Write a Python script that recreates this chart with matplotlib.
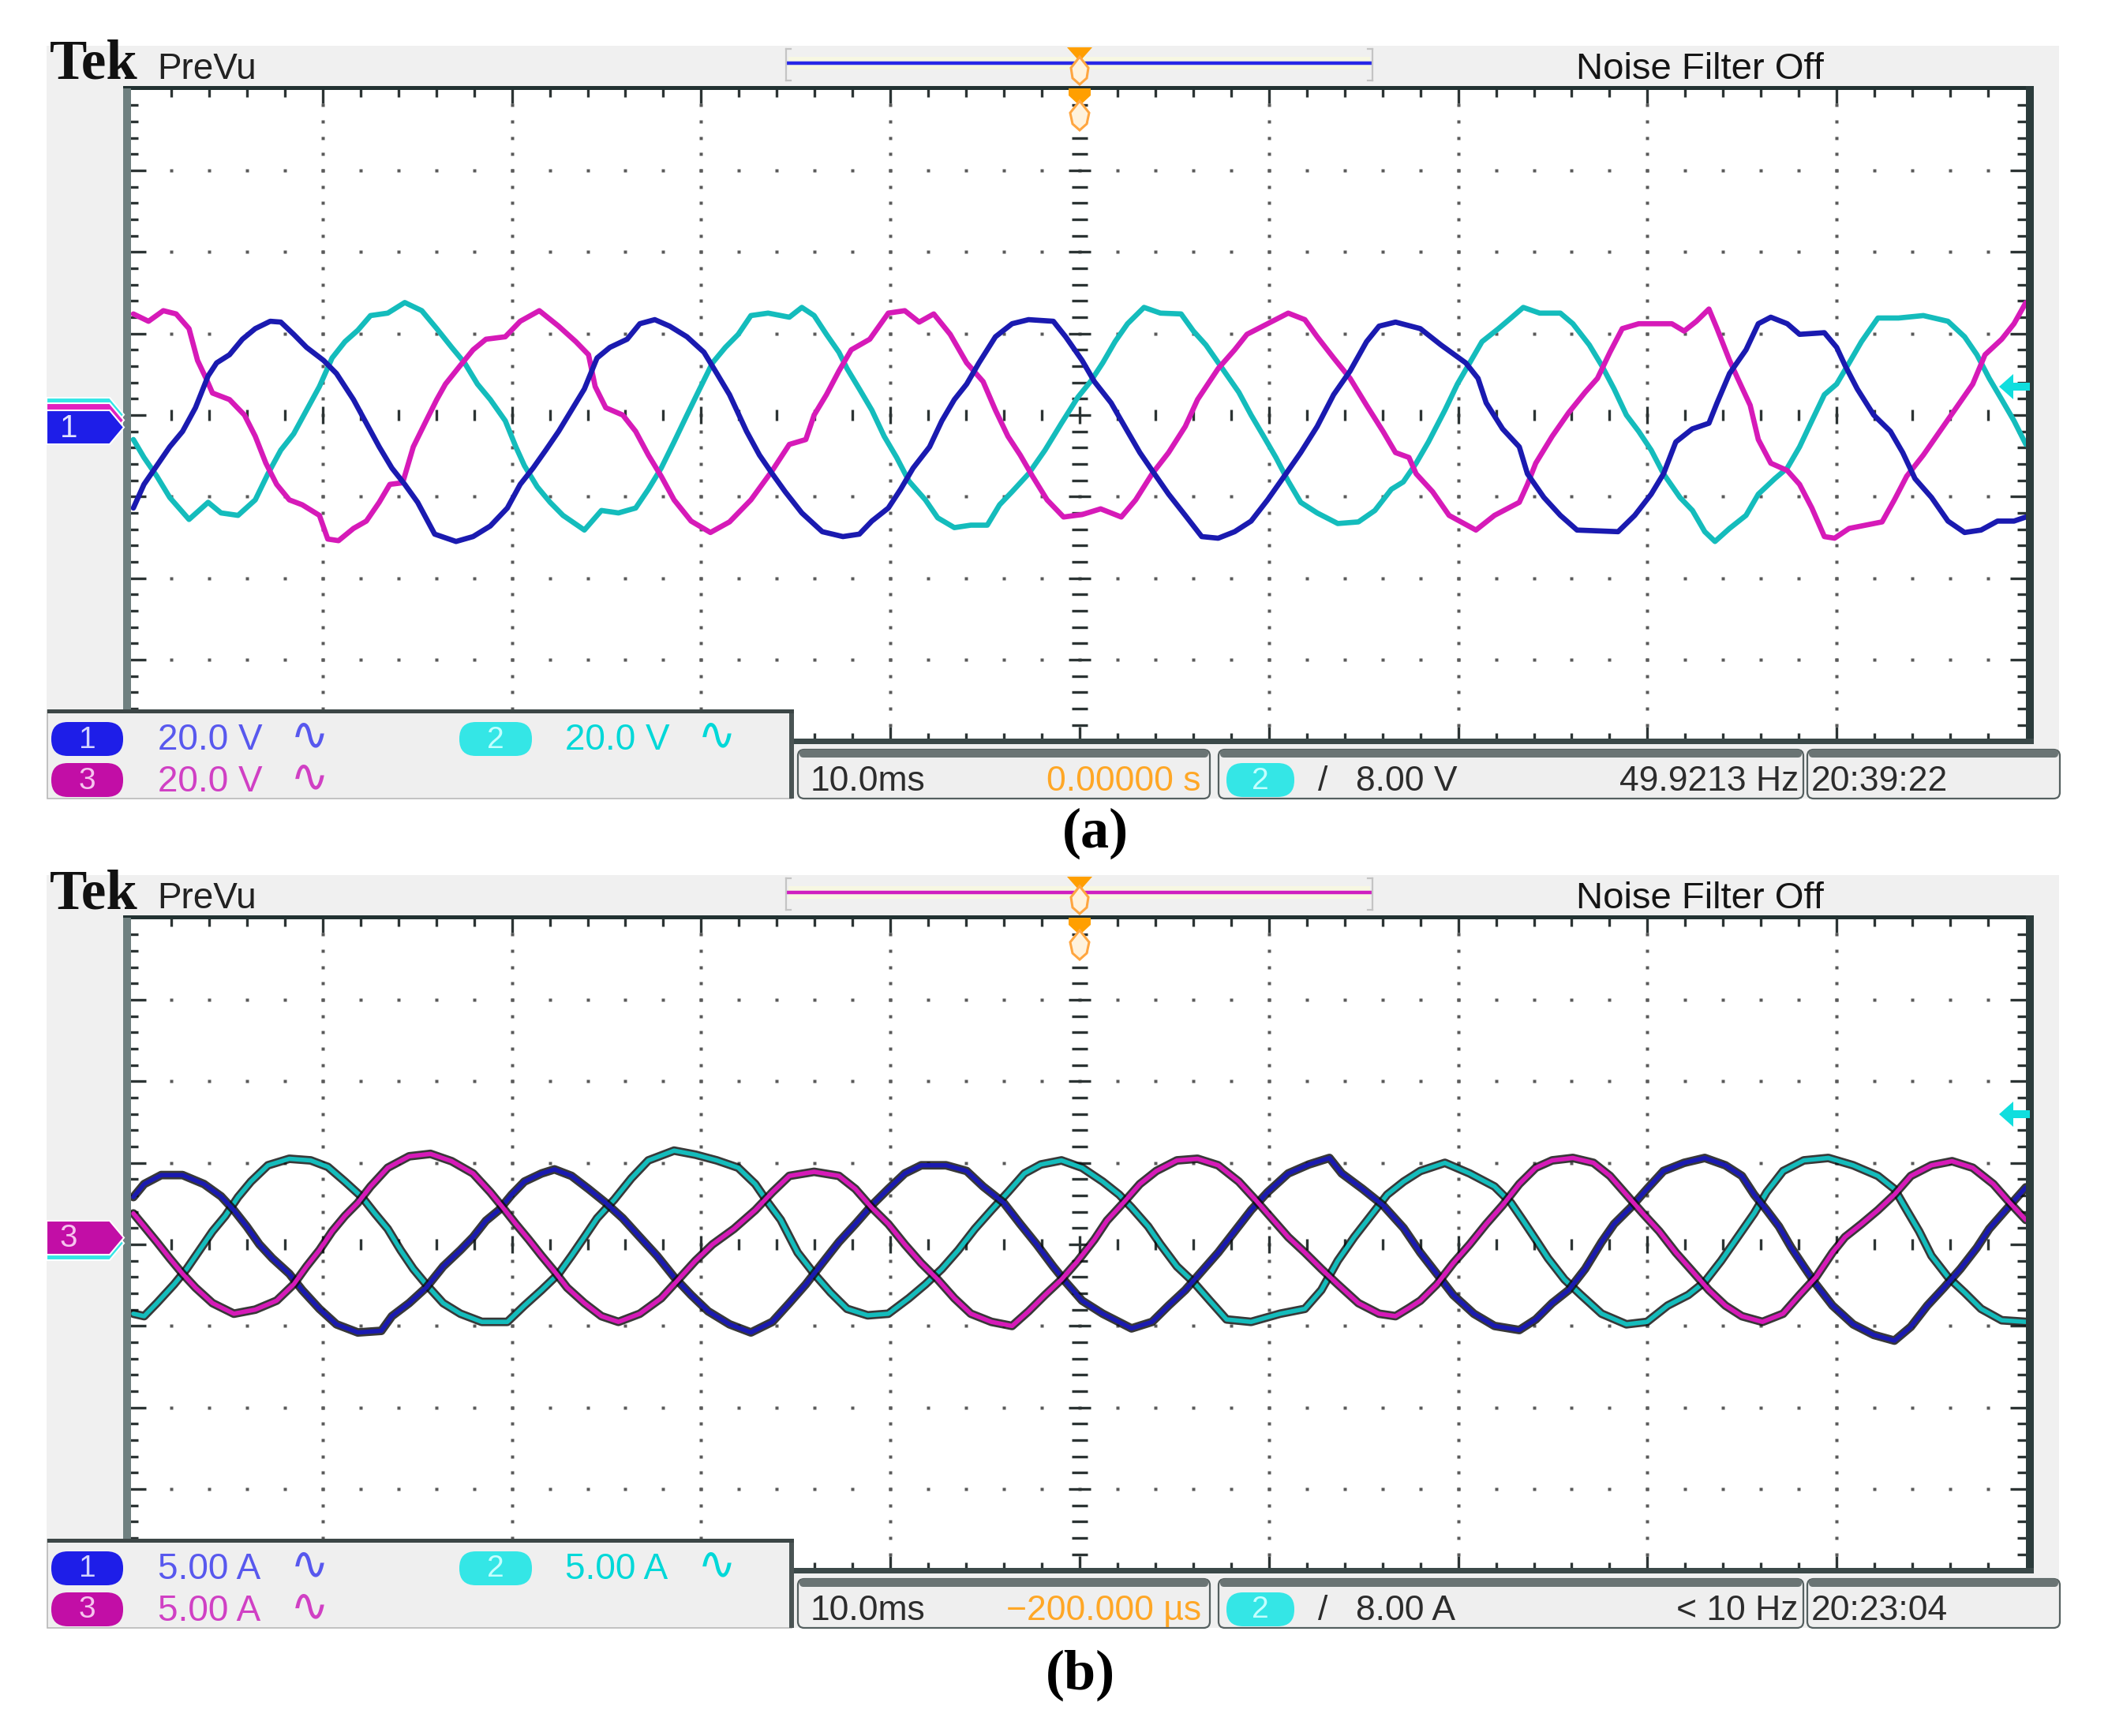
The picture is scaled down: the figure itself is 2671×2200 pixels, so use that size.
import matplotlib
matplotlib.use("Agg")
import matplotlib.pyplot as plt
import numpy as np
from matplotlib.patches import Rectangle, Polygon, FancyBboxPatch

# ---------------- DATA (time in divisions of 10 ms, amplitude in divisions) ----------------
# Panel (a): voltages, 20 V/div
A_CH1 = [(0.000,-1.14),(0.056,-0.85),(0.124,-0.62),(0.192,-0.39),(0.260,-0.20),(0.328,0.09),(0.395,0.48),
         (0.440,0.64),(0.508,0.74),(0.576,0.93),(0.644,1.06),(0.723,1.15),(0.779,1.14),(0.847,0.99),(0.915,0.83),
         (1.005,0.67),(1.073,0.51),(1.163,0.19),(1.231,-0.10),(1.299,-0.39),(1.366,-0.65),(1.434,-0.85),(1.502,-1.07),
         (1.592,-1.46),(1.705,-1.55),(1.795,-1.49),(1.886,-1.36),(1.976,-1.14),(2.044,-0.85),(2.112,-0.65),(2.179,-0.43),
         (2.247,-0.20),(2.315,0.06),(2.383,0.32),(2.450,0.70),(2.518,0.83),(2.609,0.93),(2.676,1.12),(2.755,1.17),
         (2.834,1.09),(2.925,0.96),(3.015,0.77),(3.083,0.51),(3.150,0.25),(3.240,-0.20),(3.308,-0.49),(3.376,-0.72),
         (3.444,-0.94),(3.532,-1.20),(3.640,-1.43),(3.749,-1.49),(3.836,-1.46),(3.902,-1.30),(3.989,-1.14),(4.054,-0.91),
         (4.120,-0.65),(4.207,-0.39),(4.272,-0.07),(4.338,0.19),(4.403,0.38),(4.468,0.64),(4.555,0.96),(4.643,1.12),
         (4.730,1.17),(4.861,1.15),(4.926,0.96),(5.013,0.67),(5.078,0.41),(5.166,0.15),(5.253,-0.20),(5.318,-0.46),
         (5.383,-0.68),(5.470,-0.97),(5.558,-1.23),(5.645,-1.49),(5.732,-1.51),(5.819,-1.43),(5.906,-1.30),(5.993,-1.04),
         (6.081,-0.75),(6.168,-0.46),(6.255,-0.14),(6.342,0.25),(6.429,0.54),(6.516,0.90),(6.582,1.09),(6.669,1.14),
         (6.800,1.06),(6.909,0.86),(7.040,0.64),(7.105,0.45),(7.148,0.15),(7.235,-0.17),(7.323,-0.39),(7.366,-0.72),
         (7.453,-1.01),(7.540,-1.23),(7.628,-1.41),(7.845,-1.43),(7.933,-1.23),(8.020,-0.97),(8.085,-0.72),(8.150,-0.33),
         (8.237,-0.17),(8.325,-0.10),(8.368,0.15),(8.434,0.51),(8.521,0.80),(8.586,1.12),(8.652,1.20),(8.739,1.12),
         (8.804,0.99),(8.935,1.01),(9.000,0.83),(9.044,0.61),(9.109,0.32),(9.196,0.00),(9.284,-0.20),(9.349,-0.46),
         (9.414,-0.78),(9.501,-1.01),(9.588,-1.30),(9.676,-1.44),(9.763,-1.41),(9.850,-1.30),(9.937,-1.30),(10.000,-1.25)]

A_CH2 = [(0.000,-0.30),(0.056,-0.52),(0.124,-0.75),(0.192,-1.01),(0.294,-1.28),(0.395,-1.07),(0.463,-1.20),
         (0.553,-1.23),(0.644,-1.04),(0.711,-0.72),(0.779,-0.43),(0.847,-0.23),(0.915,0.06),(0.983,0.35),(1.050,0.70),
         (1.118,0.90),(1.186,1.04),(1.253,1.22),(1.344,1.25),(1.434,1.38),(1.524,1.28),(1.603,1.06),(1.682,0.83),
         (1.750,0.64),(1.818,0.38),(1.886,0.19),(1.965,-0.07),(2.021,-0.39),(2.066,-0.62),(2.134,-0.88),(2.202,-1.07),
         (2.270,-1.23),(2.383,-1.41),(2.473,-1.17),(2.563,-1.20),(2.654,-1.14),(2.721,-0.91),(2.789,-0.65),(2.857,-0.33),
         (2.925,0.00),(2.992,0.32),(3.060,0.64),(3.128,0.83),(3.196,0.99),(3.263,1.22),(3.354,1.25),(3.466,1.20),
         (3.532,1.32),(3.597,1.22),(3.662,0.99),(3.728,0.77),(3.771,0.57),(3.836,0.32),(3.902,0.06),(3.967,-0.26),
         (4.033,-0.52),(4.098,-0.81),(4.185,-1.04),(4.250,-1.26),(4.338,-1.38),(4.425,-1.35),(4.512,-1.35),(4.577,-1.10),
         (4.643,-0.94),(4.730,-0.72),(4.817,-0.43),(4.904,-0.10),(4.991,0.22),(5.057,0.41),(5.122,0.64),(5.187,0.90),
         (5.253,1.12),(5.340,1.32),(5.427,1.25),(5.536,1.24),(5.601,1.03),(5.667,0.86),(5.754,0.57),(5.841,0.28),
         (5.906,0.00),(5.972,-0.26),(6.037,-0.52),(6.102,-0.81),(6.168,-1.07),(6.255,-1.20),(6.364,-1.33),(6.473,-1.31),
         (6.560,-1.17),(6.647,-0.91),(6.710,-0.82),(6.778,-0.59),(6.843,-0.33),(6.930,0.06),(6.996,0.38),(7.061,0.64),
         (7.126,0.90),(7.213,1.06),(7.279,1.19),(7.344,1.32),(7.431,1.25),(7.540,1.25),(7.606,1.12),(7.693,0.86),
         (7.758,0.61),(7.824,0.32),(7.889,0.00),(7.954,-0.20),(8.020,-0.43),(8.085,-0.72),(8.172,-1.01),(8.238,-1.17),
         (8.303,-1.43),(8.357,-1.55),(8.434,-1.39),(8.521,-1.23),(8.586,-0.97),(8.673,-0.78),(8.739,-0.65),(8.804,-0.39),
         (8.869,-0.07),(8.935,0.25),(9.000,0.38),(9.066,0.64),(9.131,0.90),(9.218,1.19),(9.327,1.19),(9.458,1.22),
         (9.588,1.15),(9.676,0.96),(9.741,0.74),(9.806,0.45),(9.872,0.19),(9.937,-0.07),(10.000,-0.36)]

A_CH3 = [(0.000,1.24),(0.080,1.15),(0.158,1.28),(0.226,1.24),(0.294,1.06),(0.339,0.67),(0.384,0.45),(0.418,0.27),
         (0.508,0.19),(0.587,0.00),(0.644,-0.26),(0.700,-0.59),(0.757,-0.85),(0.824,-1.04),(0.892,-1.10),(0.983,-1.23),
         (1.027,-1.52),(1.084,-1.54),(1.163,-1.39),(1.231,-1.30),(1.299,-1.07),(1.355,-0.85),(1.423,-0.83),(1.479,-0.39),
         (1.547,-0.07),(1.603,0.19),(1.649,0.38),(1.728,0.61),(1.795,0.80),(1.863,0.93),(1.965,0.96),(2.044,1.15),
         (2.145,1.28),(2.247,1.09),(2.338,0.90),(2.405,0.74),(2.440,0.35),(2.496,0.09),(2.586,0.00),(2.654,-0.20),
         (2.721,-0.49),(2.789,-0.75),(2.857,-1.04),(2.947,-1.30),(3.049,-1.44),(3.150,-1.31),(3.263,-1.04),(3.376,-0.68),
         (3.466,-0.36),(3.553,-0.30),(3.597,0.00),(3.662,0.25),(3.728,0.54),(3.793,0.80),(3.891,0.93),(3.989,1.25),
         (4.076,1.28),(4.152,1.14),(4.229,1.24),(4.316,0.99),(4.403,0.64),(4.490,0.41),(4.555,0.06),(4.621,-0.26),
         (4.686,-0.49),(4.751,-0.75),(4.828,-1.04),(4.915,-1.25),(5.013,-1.22),(5.111,-1.15),(5.220,-1.25),(5.296,-1.04),
         (5.383,-0.72),(5.470,-0.46),(5.558,-0.14),(5.623,0.19),(5.732,0.57),(5.819,0.80),(5.884,0.99),(5.993,1.12),
         (6.102,1.25),(6.190,1.17),(6.255,0.96),(6.342,0.70),(6.429,0.45),(6.516,0.12),(6.603,-0.20),(6.669,-0.46),
         (6.740,-0.52),(6.778,-0.72),(6.865,-0.94),(6.952,-1.23),(7.094,-1.41),(7.192,-1.23),(7.323,-1.07),(7.366,-0.85),
         (7.410,-0.59),(7.497,-0.26),(7.584,0.03),(7.671,0.28),(7.736,0.45),(7.802,0.77),(7.867,1.06),(7.954,1.12),
         (8.129,1.12),(8.194,1.03),(8.259,1.15),(8.325,1.30),(8.368,1.06),(8.434,0.67),(8.477,0.45),(8.543,0.12),
         (8.586,-0.30),(8.652,-0.59),(8.739,-0.68),(8.804,-0.85),(8.869,-1.14),(8.935,-1.49),(8.989,-1.51),(9.066,-1.39),
         (9.153,-1.35),(9.240,-1.31),(9.305,-1.04),(9.370,-0.75),(9.458,-0.49),(9.545,-0.20),(9.632,0.09),(9.719,0.38),
         (9.784,0.74),(9.872,0.93),(9.937,1.12),(10.000,1.38)]

# Panel (b): currents, 5 A/div
B_CH1 = [(0.000,0.58),(0.057,0.74),(0.147,0.85),(0.260,0.85),(0.373,0.74),(0.463,0.59),(0.531,0.42),(0.599,0.22),
         (0.666,0.00),(0.734,-0.17),(0.824,-0.36),(0.892,-0.56),(0.983,-0.79),(1.073,-0.98),(1.186,-1.08),(1.310,-1.06),
         (1.366,-0.88),(1.457,-0.72),(1.547,-0.53),(1.637,-0.27),(1.728,-0.07),(1.795,0.09),(1.863,0.29),(1.931,0.42),
         (1.999,0.61),(2.066,0.77),(2.157,0.87),(2.225,0.92),(2.315,0.84),(2.405,0.68),(2.496,0.51),(2.586,0.32),
         (2.676,0.09),(2.767,-0.14),(2.857,-0.40),(2.947,-0.62),(3.037,-0.82),(3.150,-0.98),(3.263,-1.08),(3.376,-0.95),
         (3.466,-0.72),(3.553,-0.49),(3.640,-0.23),(3.728,0.03),(3.815,0.25),(3.902,0.48),(3.989,0.68),(4.076,0.87),
         (4.163,0.97),(4.294,0.97),(4.403,0.90),(4.490,0.71),(4.599,0.51),(4.686,0.25),(4.773,0.00),(4.860,-0.27),
         (4.926,-0.46),(5.013,-0.69),(5.122,-0.85),(5.274,-1.03),(5.383,-0.95),(5.470,-0.75),(5.558,-0.56),(5.645,-0.33),
         (5.732,-0.10),(5.819,0.16),(5.906,0.42),(5.993,0.64),(6.102,0.87),(6.211,0.98),(6.320,1.06),(6.385,0.87),
         (6.495,0.68),(6.603,0.48),(6.712,0.20),(6.800,-0.10),(6.887,-0.36),(6.974,-0.62),(7.083,-0.85),(7.192,-1.00),
         (7.323,-1.05),(7.410,-0.92),(7.497,-0.72),(7.584,-0.56),(7.671,-0.30),(7.758,0.03),(7.824,0.25),(7.911,0.45),
         (7.998,0.68),(8.085,0.90),(8.194,1.00),(8.303,1.06),(8.412,0.97),(8.499,0.84),(8.564,0.61),(8.630,0.42),
         (8.695,0.22),(8.760,-0.04),(8.826,-0.27),(8.891,-0.49),(8.978,-0.75),(9.087,-0.98),(9.196,-1.11),(9.305,-1.18),
         (9.392,-1.01),(9.479,-0.75),(9.567,-0.53),(9.654,-0.30),(9.741,-0.04),(9.806,0.19),(9.893,0.42),(10.000,0.70)]

B_CH2 = [(0.000,-0.85),(0.057,-0.88),(0.124,-0.72),(0.215,-0.49),(0.282,-0.30),(0.350,-0.07),(0.418,0.16),
         (0.486,0.35),(0.553,0.58),(0.621,0.77),(0.711,0.97),(0.824,1.05),(0.937,1.03),(1.028,0.95),(1.118,0.77),
         (1.208,0.58),(1.276,0.38),(1.344,0.19),(1.412,-0.07),(1.479,-0.30),(1.547,-0.49),(1.637,-0.72),(1.728,-0.85),
         (1.841,-0.95),(1.976,-0.95),(2.066,-0.75),(2.157,-0.56),(2.247,-0.36),(2.315,-0.14),(2.383,0.09),(2.450,0.32),
         (2.541,0.55),(2.631,0.81),(2.721,1.03),(2.857,1.15),(2.970,1.10),(3.083,1.03),(3.196,0.94),(3.286,0.74),
         (3.354,0.51),(3.421,0.30),(3.510,-0.10),(3.597,-0.36),(3.684,-0.59),(3.771,-0.79),(3.880,-0.87),(3.989,-0.85),
         (4.098,-0.66),(4.185,-0.49),(4.272,-0.30),(4.359,-0.07),(4.446,0.19),(4.534,0.42),(4.621,0.64),(4.708,0.87),
         (4.795,0.98),(4.904,1.03),(5.013,0.94),(5.122,0.77),(5.209,0.61),(5.275,0.45),(5.362,0.22),(5.427,0.00),
         (5.514,-0.27),(5.601,-0.46),(5.688,-0.69),(5.776,-0.92),(5.906,-0.95),(6.059,-0.85),(6.190,-0.79),(6.277,-0.56),
         (6.364,-0.20),(6.451,0.09),(6.538,0.35),(6.625,0.61),(6.712,0.77),(6.800,0.90),(6.930,1.00),(7.061,0.87),
         (7.192,0.71),(7.279,0.51),(7.344,0.29),(7.410,0.06),(7.475,-0.17),(7.562,-0.43),(7.649,-0.62),(7.758,-0.85),
         (7.889,-0.98),(7.998,-0.95),(8.107,-0.75),(8.216,-0.62),(8.303,-0.46),(8.390,-0.20),(8.477,0.09),(8.564,0.38),
         (8.630,0.64),(8.717,0.90),(8.826,1.03),(8.956,1.06),(9.087,0.97),(9.218,0.84),(9.305,0.68),(9.370,0.42),
         (9.436,0.16),(9.501,-0.14),(9.588,-0.40),(9.676,-0.59),(9.763,-0.79),(9.872,-0.93),(10.000,-0.95)]

B_CH3 = [(0.000,0.38),(0.057,0.22),(0.124,0.03),(0.192,-0.17),(0.260,-0.36),(0.328,-0.53),(0.418,-0.72),
         (0.531,-0.85),(0.644,-0.80),(0.757,-0.69),(0.847,-0.49),(0.915,-0.27),(0.983,-0.07),(1.050,0.16),(1.118,0.35),
         (1.186,0.51),(1.253,0.71),(1.344,0.94),(1.457,1.08),(1.570,1.11),(1.682,1.02),(1.795,0.87),(1.886,0.64),
         (1.953,0.45),(2.021,0.25),(2.089,0.06),(2.157,-0.14),(2.225,-0.33),(2.292,-0.53),(2.383,-0.72),(2.473,-0.88),
         (2.563,-0.95),(2.676,-0.85),(2.789,-0.66),(2.880,-0.43),(2.970,-0.20),(3.060,0.00),(3.173,0.19),(3.286,0.42),
         (3.376,0.64),(3.466,0.84),(3.597,0.89),(3.728,0.84),(3.815,0.68),(3.902,0.45),(3.989,0.25),(4.076,0.00),
         (4.163,-0.23),(4.250,-0.43),(4.338,-0.66),(4.425,-0.85),(4.534,-0.95),(4.643,-1.00),(4.730,-0.82),(4.817,-0.62),
         (4.904,-0.43),(4.991,-0.20),(5.078,0.06),(5.144,0.29),(5.231,0.51),(5.318,0.74),(5.405,0.90),(5.514,1.03),
         (5.623,1.05),(5.732,0.97),(5.841,0.77),(5.928,0.55),(6.015,0.32),(6.102,0.09),(6.190,-0.10),(6.277,-0.30),
         (6.364,-0.49),(6.473,-0.72),(6.582,-0.85),(6.669,-0.88),(6.740,-0.78),(6.800,-0.69),(6.887,-0.49),(6.974,-0.23),
         (7.061,0.00),(7.148,0.25),(7.235,0.48),(7.323,0.74),(7.410,0.94),(7.497,1.03),(7.606,1.06),(7.715,1.00),
         (7.802,0.84),(7.889,0.61),(7.976,0.38),(8.063,0.16),(8.150,-0.10),(8.238,-0.33),(8.325,-0.56),(8.412,-0.75),
         (8.499,-0.88),(8.608,-0.95),(8.717,-0.85),(8.804,-0.62),(8.891,-0.40),(8.978,-0.10),(9.044,0.09),(9.131,0.25),
         (9.218,0.42),(9.305,0.61),(9.392,0.84),(9.501,0.97),(9.610,1.02),(9.719,0.94),(9.828,0.74),(9.915,0.51),
         (10.000,0.30)]

A_SCALES = ["20.0 V", "20.0 V", "20.0 V"]
B_SCALES = ["5.00 A", "5.00 A", "5.00 A"]
A_INFO = ["10.0ms", "0.00000 s", "8.00 V", "49.9213 Hz", "20:39:22"]
B_INFO = ["10.0ms", "\u2212200.000 \u00b5s", "8.00 A", "< 10 Hz", "20:23:04"]
PANEL_LABELS = ["(a)", "(b)"]

# ---------------- styling ----------------
W, H = 2671, 2200
SANS = ['Liberation Sans', 'DejaVu Sans']
SERIF = ['Liberation Serif', 'DejaVu Serif']
BLUE_TR, CYAN_TR, MAG_TR = '#1a1ab0', '#14bcbc', '#d61ab8'
BLUE_UI, CYAN_UI, MAG_UI = '#1e1ee8', '#34e6e6', '#c20ea6'
BLUE_TX, CYAN_TX, MAG_TX = '#5858ee', '#00d8d8', '#d040c4'
ORANGE = '#ffa726'

fig = plt.figure(figsize=(W / 100, H / 100), dpi=100)
bg = fig.add_axes([0, 0, 1, 1]); bg.set_xlim(0, W); bg.set_ylim(H, 0); bg.axis('off'); bg.set_zorder(0)
fg = fig.add_axes([0, 0, 1, 1]); fg.set_xlim(0, W); fg.set_ylim(H, 0); fg.axis('off'); fg.set_zorder(3)

GX0, GX1, GY0, GY1 = 161, 2572, 112, 940      # border box in px (panel a)
T0PX, DIVX = 169, 239.8
CY, DIVY = 526, 103.35


def pill(x, y, w, h, color, txt, tcol):
    fg.add_patch(FancyBboxPatch((x, y), w, h, boxstyle="round,pad=0,rounding_size=%d" % (h // 2),
                                fc=color, ec='none', zorder=5))
    fg.text(x + w / 2, y + h / 2 + 1, txt, ha='center', va='center', fontsize=28, color=tcol,
            family=SANS, zorder=6)


def pentagon(top, color, txt=None, tcol='white'):
    h = 43
    pts = [(59, top), (139, top), (157, top + h / 2), (139, top + h), (59, top + h)]
    fg.add_patch(Polygon(pts, closed=True, fc=color, ec='white', lw=1.5, zorder=5))
    if txt:
        fg.text(87, top + h / 2 + 1, txt, ha='center', va='center', fontsize=29, color=tcol,
                family=SANS, zorder=6)


def draw_panel(dy, traces, scales, info, trig_col, thick, label, label_xy, arrow_y, markers):
    # screen background
    bg.add_patch(Rectangle((59, 58 + dy), 2609 - 59, 1012 - 58, fc='#f0f0f0', ec='none'))
    bg.add_patch(Rectangle((GX0, GY0 + dy), GX1 - GX0, GY1 - GY0, fc='white', ec='none'))

    # data axes on the graticule
    ax = fig.add_axes([GX0 / W, 1 - (GY1 + dy) / H, (GX1 - GX0) / W, (GY1 - GY0) / H])
    ax.set_zorder(1)
    ax.set_xlim((GX0 - T0PX) / DIVX, 10 + (GX1 - (T0PX + 10 * DIVX)) / DIVX)
    ax.set_ylim(-(GY1 - CY) / DIVY, (CY - GY0) / DIVY)
    ax.axis('off')

    tminor = np.arange(1, 50) * 0.2
    vminor = -4 + np.arange(1, 40) * 0.2
    dot = dict(ls='none', marker='s', ms=3.3, color='#5a5a5a', mec='none')
    for k in [1, 2, 3, 4, 6, 7, 8, 9]:
        ax.plot(np.full(vminor.size, k), vminor, **dot)
    for j in [-3, -2, -1, 1, 2, 3]:
        ax.plot(tminor, np.full(tminor.size, j), **dot)
    tickc = '#2c3434'
    is_major_t = np.isclose(tminor % 1, 0) | np.isclose(tminor % 1, 1)
    is_major_v = np.isclose(vminor % 1, 0) | np.isclose(vminor % 1, 1)
    # centre cross
    ax.vlines(tminor, np.where(is_major_t, -0.11, -0.065), np.where(is_major_t, 0.11, 0.065), color=tickc, lw=2.4)
    ax.hlines(vminor, 5 - np.where(is_major_v, 0.06, 0.042), 5 + np.where(is_major_v, 0.06, 0.042),
              color=tickc, lw=2.4)
    # border ticks
    lt = np.where(is_major_t, 0.18, 0.10)
    ax.vlines(tminor, 4.0 - lt, 4.0, color=tickc, lw=2.4)
    ax.vlines(tminor, -4.0, -4.0 + lt, color=tickc, lw=2.4)
    lv = np.where(is_major_v, 0.085, 0.045)
    ax.hlines(vminor, -0.02, -0.02 + lv, color=tickc, lw=2.4)
    ax.hlines(vminor, 10.0 - lv, 10.0, color=tickc, lw=2.4)

    # traces
    for pts, col in traces:
        t = [p[0] for p in pts]
        v = [p[1] for p in pts]
        if thick:
            ax.plot(t, v, color='#0c0c0c', lw=7.8, alpha=0.82, solid_joinstyle='round', solid_capstyle='round')
            ax.plot(t, v, color=col, lw=4.0, solid_joinstyle='round', solid_capstyle='round')
        else:
            ax.plot(t, v, color=col, lw=4.8, solid_joinstyle='round', solid_capstyle='round')

    # graticule border
    fg.add_patch(Rectangle((156, 109 + dy), 2577 - 156, 5, fc='#223232', ec='none', zorder=2))
    fg.add_patch(Rectangle((156, 112 + dy), 10, 900 - 112, fc='#6f8080', ec='none', zorder=2))
    fg.add_patch(Rectangle((2567, 109 + dy), 10, 943 - 109, fc='#2b3b3b', ec='none', zorder=2))
    fg.add_patch(Rectangle((1003, 936 + dy), 2577 - 1003, 7, fc='#3b4949', ec='none', zorder=2))

    # header
    fg.text(63, 100 + dy, "Tek", family=SERIF, weight='bold', fontsize=51, color='#111111',
            ha='left', va='baseline')
    fg.text(199, 100 + dy, "PreVu", family=SANS, fontsize=33, color='#222222', ha='left', va='baseline')
    fg.text(2154, 100 + dy, "Noise Filter Off", family=SANS, fontsize=34, color='#151515',
            ha='center', va='baseline')
    # trigger position bar
    fg.add_patch(Rectangle((999, 72 + dy), 737, 16, fc='#f7f7e2', ec='none', zorder=2))
    fg.plot([999, 1736], [80 + dy, 80 + dy], color=trig_col, lw=3.2, zorder=3)
    for xb, s in [(996, 1), (1739, -1)]:
        fg.plot([xb, xb], [62 + dy, 102 + dy], color='#c4c4c4', lw=1.6, zorder=3)
        fg.plot([xb, xb + 6 * s], [62 + dy, 62 + dy], color='#c4c4c4', lw=1.6, zorder=3)
        fg.plot([xb, xb + 6 * s], [102 + dy, 102 + dy], color='#c4c4c4', lw=1.6, zorder=3)
    # orange trigger markers
    fg.add_patch(Polygon([(1352, 60 + dy), (1384, 60 + dy), (1368, 78 + dy)], fc='#ff9f00', ec='none', zorder=4))
    fg.add_patch(Polygon([(1368, 72 + dy), (1379, 86 + dy), (1377, 99 + dy), (1368, 107 + dy), (1359, 99 + dy),
                          (1357, 86 + dy)], fc='#fff2dc', ec='#ffa640', lw=2.2, zorder=4))
    fg.add_patch(Polygon([(1354, 112 + dy), (1382, 112 + dy), (1382, 121 + dy), (1368, 134 + dy),
                          (1354, 121 + dy)], fc='#ff9f00', ec='none', zorder=4))
    fg.add_patch(Polygon([(1368, 128 + dy), (1380, 143 + dy), (1377, 157 + dy), (1368, 165 + dy),
                          (1359, 157 + dy), (1356, 143 + dy)], fc='#fff2dc', ec='#ffa640', lw=2.2, zorder=4))

    # trigger level arrow (right)
    ay = arrow_y + dy
    fg.add_patch(Polygon([(2533, ay), (2551, ay - 16), (2551, ay - 5), (2572, ay - 5), (2572, ay + 5),
                          (2551, ay + 5), (2551, ay + 16)], fc='#10dede', ec='none', zorder=5))

    # channel ground markers (left)
    for top, col, txt, tcol in markers:
        pentagon(top + dy, col, txt, tcol)

    # channel scale box
    fg.add_patch(Rectangle((60, 900 + dy), 943, 112, fc='#efefef', ec='#b9b9b9', lw=1.2, zorder=4))
    fg.add_patch(Rectangle((60, 899 + dy), 946, 5, fc='#3c4646', ec='none', zorder=4))
    fg.add_patch(Rectangle((1000, 904 + dy), 6, 108, fc='#4a5454', ec='none', zorder=4))
    pill(65, 915 + dy, 91, 43, BLUE_UI, "1", '#d4d4ff')
    pill(582, 915 + dy, 92, 43, CYAN_UI, "2", '#c4ffff')
    pill(65, 967 + dy, 91, 43, MAG_UI, "3", '#f6c4ee')
    for (x, y, col, s) in [(200, 950, BLUE_TX, scales[0]), (716, 950, CYAN_TX, scales[1]),
                           (200, 1003, MAG_TX, scales[2])]:
        fg.text(x, y + dy, s, family=SANS, fontsize=33, color=col, ha='left', va='baseline', zorder=6)
        fg.text(x + 168, y + dy - 17, "\u223f", family=['DejaVu Sans'], fontsize=42, color=col,
                ha='left', va='center', zorder=6)

    # info boxes
    for (x0, x1) in [(1011, 1533), (1544, 2285), (2290, 2610)]:
        fg.add_patch(FancyBboxPatch((x0, 950 + dy), x1 - x0, 62, boxstyle="round,pad=0,rounding_size=8",
                                    fc='#efefef', ec='#556060', lw=1.6, zorder=4))
        fg.add_patch(FancyBboxPatch((x0 + 2, 950 + dy), x1 - x0 - 4, 10, boxstyle="round,pad=0,rounding_size=5",
                                    fc='#6a7474', ec='none', zorder=4))
    fg.text(1027, 1002 + dy, info[0], family=SANS, fontsize=32, color='#2c2c2c', ha='left', va='baseline', zorder=6)
    fg.text(1522, 1002 + dy, info[1], family=SANS, fontsize=32, color=ORANGE, ha='right', va='baseline', zorder=6)
    pill(1554, 967 + dy, 86, 43, CYAN_UI, "2", '#c4ffff')
    fg.text(1670, 1002 + dy, "/", family=SANS, fontsize=32, color='#2c2c2c', ha='left', va='baseline', zorder=6)
    fg.text(1718, 1002 + dy, info[2], family=SANS, fontsize=32, color='#2c2c2c', ha='left', va='baseline', zorder=6)
    fg.text(2279, 1002 + dy, info[3], family=SANS, fontsize=32, color='#2c2c2c', ha='right', va='baseline', zorder=6)
    fg.text(2295, 1002 + dy, info[4], family=SANS, fontsize=32, color='#2c2c2c', ha='left', va='baseline', zorder=6)

    # panel label
    fg.text(label_xy[0], label_xy[1], label, family=SERIF, weight='bold', fontsize=52, color='black',
            ha='center', va='center', zorder=6)


draw_panel(0, [(A_CH2, CYAN_TR), (A_CH3, MAG_TR), (A_CH1, BLUE_TR)], A_SCALES, A_INFO, '#2a2ae6', False,
           PANEL_LABELS[0], (1388, 1056), 490,
           [(504, CYAN_UI, None, 'white'), (511, '#e020c0', None, 'white'), (520, BLUE_UI, "1", '#e4e4ff')])
draw_panel(1051, [(B_CH2, CYAN_TR), (B_CH1, BLUE_TR), (B_CH3, MAG_TR)], B_SCALES, B_INFO, '#d020c0', True,
           PANEL_LABELS[1], (1369, 2123), 361,
           [(503, CYAN_UI, None, 'white'), (496, MAG_UI, "3", '#f6c4ee')])

fig.savefig("out.png", dpi=100, facecolor='white')
